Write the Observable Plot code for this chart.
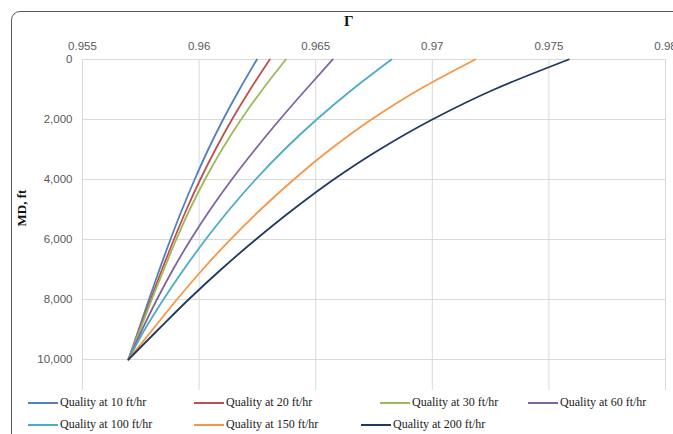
<!DOCTYPE html>
<html>
<head>
<meta charset="utf-8">
<script src="https://cdn.jsdelivr.net/npm/d3@7"></script>
<script src="https://cdn.jsdelivr.net/npm/@observablehq/plot@0.6"></script>
<style>
  html, body { margin: 0; padding: 0; background: #fff; }
  #wrap { position: relative; width: 673px; height: 434px; overflow: hidden; background: #fff; }
  #frame { position: absolute; left: 11px; top: 11px; width: 720px; height: 520px; border: 1px solid #595959; border-radius: 9px; box-sizing: border-box; }
  #chart { position: absolute; left: 0; top: 0; }
  .axlab { position: absolute; font-family: "Liberation Serif", "Times New Roman", serif; font-weight: bold; color: #111; }
  #xlab { left: 344px; top: 13px; font-size: 15px; }
  #ylab { left: 22px; top: 208px; font-size: 13px; transform: translate(-50%, -50%) rotate(-90deg); white-space: nowrap; }
  .leg { position: absolute; font-family: "Liberation Serif", "Times New Roman", serif; font-size: 12px; color: #222; white-space: nowrap; display: flex; align-items: center; }
  .sw { display: inline-block; width: 30px; height: 2px; margin-right: 2px; }
</style>
</head>
<body>
<div id="wrap">
  <div id="frame"></div>
  <div id="chart"></div>
  <div id="xlab" class="axlab">Γ</div>
  <div id="ylab" class="axlab">MD, ft</div>
  <div id="legend"></div>
</div>
<script>
// Measured depth (ft)
const depths = [0, 1000, 2000, 3000, 4000, 5000, 6000, 7000, 8000, 9000, 10000];
// Series names
const seriesNames = ["Quality at 10 ft/hr", "Quality at 20 ft/hr", "Quality at 30 ft/hr", "Quality at 60 ft/hr",
                     "Quality at 100 ft/hr", "Quality at 150 ft/hr", "Quality at 200 ft/hr"];
// Gamma values, one per depth
const q10  = [0.96248, 0.96173, 0.96103, 0.96039, 0.95981, 0.95927, 0.95877, 0.95830, 0.95785, 0.95741, 0.95697];
const q20  = [0.96303, 0.96219, 0.96141, 0.96070, 0.96005, 0.95946, 0.95892, 0.95841, 0.95792, 0.95744, 0.95697];
const q30  = [0.96372, 0.96272, 0.96180, 0.96098, 0.96025, 0.95960, 0.95902, 0.95849, 0.95797, 0.95747, 0.95697];
const q60  = [0.96573, 0.96458, 0.96346, 0.96240, 0.96140, 0.96048, 0.95964, 0.95888, 0.95819, 0.95756, 0.95697];
const q100 = [0.96825, 0.96657, 0.96504, 0.96366, 0.96242, 0.96130, 0.96028, 0.95934, 0.95847, 0.95767, 0.95697];
const q150 = [0.97184, 0.96944, 0.96739, 0.96562, 0.96406, 0.96264, 0.96134, 0.96015, 0.95905, 0.95801, 0.95697];
const q200 = [0.97585, 0.97265, 0.97000, 0.96774, 0.96577, 0.96403, 0.96243, 0.96094, 0.95955, 0.95825, 0.95697];
const seriesValues = [q10, q20, q30, q60, q100, q150, q200];
const seriesColors = ["#4F81BD", "#C0504D", "#9BBB59", "#8064A2", "#4BACC6", "#F79646", "#1F3A5F"];
// Tick values
const xTicks = [0.955, 0.96, 0.965, 0.97, 0.975, 0.98];
const yTicks = [0, 2000, 4000, 6000, 8000, 10000];

const rows = [];
seriesNames.forEach((name, i) => {
  depths.forEach((d, j) => rows.push({series: name, md: d, gamma: seriesValues[i][j]}));
});

const chart = Plot.plot({
  width: 673,
  height: 434,
  marginLeft: 82,
  marginRight: 8,
  marginTop: 59,
  marginBottom: 44,
  style: {fontFamily: "'Liberation Sans', Arial, sans-serif", fontSize: "11.5px", color: "#595959", background: "transparent", overflow: "visible"},
  x: {domain: [0.955, 0.98]},
  y: {domain: [0, 11033], reverse: true},
  color: {domain: seriesNames, range: seriesColors},
  marks: [
    Plot.gridX(xTicks, {stroke: "#d9d9d9", strokeOpacity: 1, strokeWidth: 1}),
    Plot.gridY(yTicks, {stroke: "#d9d9d9", strokeOpacity: 1, strokeWidth: 1}),
    Plot.axisX(xTicks, {anchor: "top", tickSize: 0, tickPadding: 10, label: null,
      tickFormat: d => String(+d.toFixed(3)), fill: "#595959"}),
    Plot.axisY(yTicks, {anchor: "left", tickSize: 0, tickPadding: 10, label: null,
      tickFormat: d3.format(","), fill: "#595959"}),
    Plot.line(rows, {x: "gamma", y: "md", z: "series", stroke: "series", strokeWidth: 1.8, curve: "monotone-y"})
  ]
});
document.getElementById("chart").appendChild(chart);

// Legend
const legPos = [
  [28, 403], [194, 403], [380, 403], [528, 403],
  [28, 425], [194, 425], [361, 425]
];
const legend = document.getElementById("legend");
seriesNames.forEach((name, i) => {
  const el = document.createElement("div");
  el.className = "leg";
  el.style.left = legPos[i][0] + "px";
  el.style.top = (legPos[i][1] - 8) + "px";
  el.innerHTML = `<span class="sw" style="background:${seriesColors[i]}"></span>${name}`;
  legend.appendChild(el);
});
</script>
</body>
</html>
